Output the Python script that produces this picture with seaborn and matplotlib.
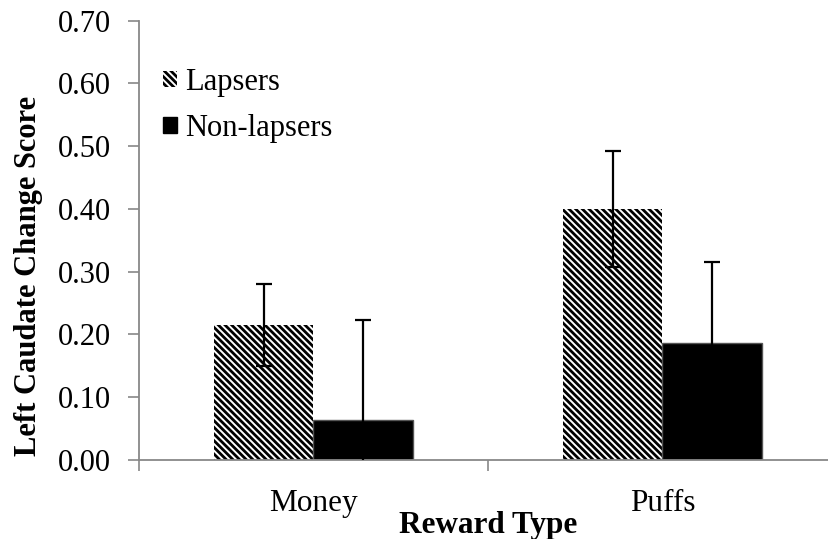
import matplotlib
matplotlib.use("Agg")
import matplotlib.pyplot as plt
import seaborn as sns
import pandas as pd
from matplotlib.patches import Patch

categories = ["Money", "Puffs"]
groups = ["Lapsers", "Non-lapsers"]
lapsers = [0.215, 0.400]
lapsers_err = [0.066, 0.092]
nonlapsers = [0.064, 0.186]
nonlapsers_err = [0.159, 0.130]
yticks = [0.0, 0.1, 0.2, 0.3, 0.4, 0.5, 0.6, 0.7]

sns.set_theme(style="white")
plt.rcParams["font.family"] = ["Liberation Serif", "DejaVu Serif"]
plt.rcParams["hatch.linewidth"] = 2.0
plt.rcParams["text.color"] = "black"
plt.rcParams["axes.labelcolor"] = "black"
plt.rcParams["xtick.color"] = "black"
plt.rcParams["ytick.color"] = "black"

HATCH = "\\\\\\\\\\"

df = pd.DataFrame({
    "Reward Type": categories * 2,
    "Group": [groups[0]] * 2 + [groups[1]] * 2,
    "Score": lapsers + nonlapsers,
})
errs = {groups[0]: lapsers_err, groups[1]: nonlapsers_err}

W, H = 829, 539
fig = plt.figure(figsize=(W / 100, H / 100), dpi=100)
ax = fig.add_axes([139 / W, 79 / H, 698 / W, 439.3 / H])

sns.barplot(data=df, x="Reward Type", y="Score", hue="Group",
            order=categories, hue_order=groups,
            palette={groups[0]: "white", groups[1]: "black"},
            width=0.573, errorbar=None, legend=False, ax=ax, saturation=1)

for grp, cont in zip(groups, ax.containers):
    for i, bar in enumerate(cont):
        if grp == groups[0]:
            bar.set_facecolor("white")
            bar.set_edgecolor("black")
            bar.set_hatch(HATCH)
            bar.set_linewidth(0)
        else:
            bar.set_facecolor("black")
            bar.set_edgecolor("#555555")
            bar.set_linewidth(1)
        ax.errorbar(bar.get_x() + bar.get_width() / 2, bar.get_height(),
                    yerr=errs[grp][i], fmt="none", ecolor="black",
                    elinewidth=1.6, capsize=6, capthick=1.6, zorder=5)

ax.set_ylim(0, 0.7)
ax.set_xlim(-0.5, 1.5)
ax.set_yticks(yticks)
ax.set_yticklabels([f"{v:.2f}" for v in yticks])
ax.set_xticks([-0.5, 0.5, 1.5], minor=False)
ax.set_xticklabels(["", "", ""])
ax.set_xticks([0, 1], minor=True)
ax.set_xticklabels(categories, minor=True)

ax.tick_params(axis="y", which="major", direction="out", length=8, width=1.2,
               color="#888888", labelcolor="black", labelsize=22, pad=12, left=True)
ax.tick_params(axis="x", which="major", direction="out", length=8, width=1.2,
               color="#888888", bottom=True)
ax.tick_params(axis="x", which="minor", length=0, labelsize=22.5, labelcolor="black",
               pad=21, bottom=True)

for s in ["top", "right"]:
    ax.spines[s].set_visible(False)
for s in ["left", "bottom"]:
    ax.spines[s].set_color("#888888")
    ax.spines[s].set_linewidth(1.3)

ax.set_xlabel("Reward Type", fontsize=22.5, fontweight="bold", color="black")
ax.xaxis.set_label_coords(0.5, -0.115)
ax.set_ylabel("Left Caudate Change Score", fontsize=22, fontweight="bold", color="black")
ax.yaxis.set_label_coords(-0.138, 0.42)

handles = [Patch(facecolor="white", edgecolor="black", hatch=HATCH, linewidth=0),
           Patch(facecolor="black", edgecolor="black")]
ax.legend(handles, groups, loc="upper left", bbox_to_anchor=(0.035, 0.892),
          frameon=False, fontsize=22, handlelength=0.45, handleheight=0.45,
          handletextpad=0.25, labelspacing=0.55, borderaxespad=0, borderpad=0)

fig.savefig("out.png", dpi=100)
